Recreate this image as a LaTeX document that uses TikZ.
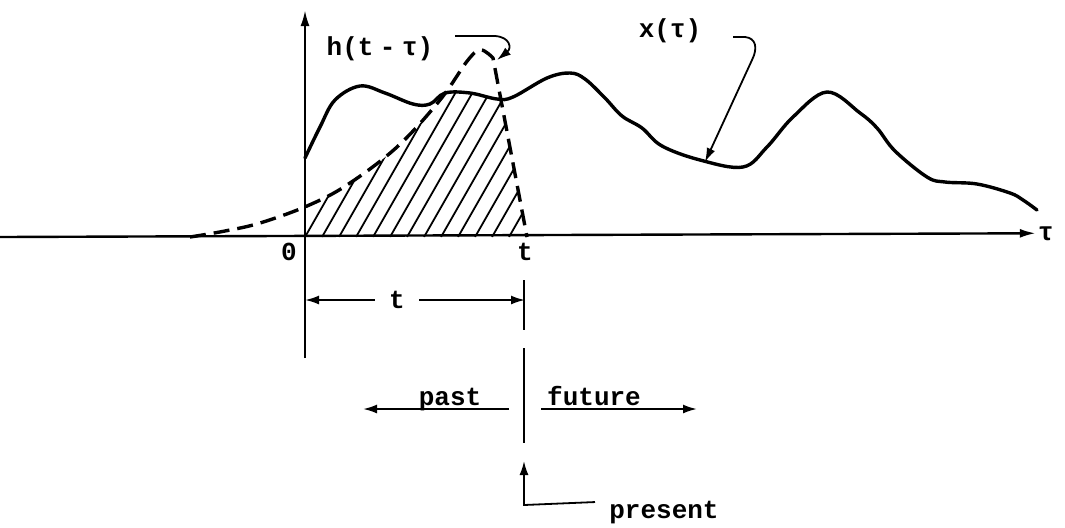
\documentclass[tikz,border=0pt]{standalone}
\usepackage{fontspec}
\setmonofont{Liberation Mono}
\usetikzlibrary{arrows.meta}

\begin{document}
\begin{tikzpicture}[
  x=0.5pt,y=-0.5pt,
  font=\ttfamily\bfseries\fontsize{13}{15}\selectfont,
  axis/.style={line width=1.2pt},
  arr/.style={-{Latex[length=7pt,width=4.5pt]},line width=1pt},
  lead/.style={-{Latex[length=7pt,width=4.5pt]},line width=0.9pt},
  signal/.style={line width=1.7pt,line join=round,line cap=round},
  kernel/.style={line width=1.7pt,dash pattern=on 8pt off 4pt},
  hatch/.style={line width=0.9pt},
  lbl/.style={inner sep=1pt,anchor=base}
]
\useasboundingbox (0,0) rectangle (1065,527);

% labels
\node[lbl] (zero) at (289,260) {0};
\node[lbl] (tend) at (525,260) {t};
\node[lbl] (tau) at (1046,240) {τ};
\node[lbl] (tdim) at (397,308) {t};
\node[lbl] (past) at (450,405) {past};
\node[lbl] (future) at (594,405) {future};
\node[lbl] (present) at (664,518) {present};
\node[lbl] (hlab) at (380,55) {h(t\hspace{.25em}-\hspace{.25em}τ)};
\node[lbl] (xlab) at (670,37) {x(τ)};

% end points
\coordinate (xstart) at (0,237);
\coordinate (ybot) at (305,358);
\coordinate (ytop) at (305,10);
\coordinate (dl) at (305,300);
\coordinate (dr) at (525,300);
\coordinate (pa) at (509,409);
\coordinate (pb) at (363,409);
\coordinate (fa) at (541,409);
\coordinate (fb) at (697,409);
\coordinate (hpeak) at (497,60);
\coordinate (xdip) at (705,162);

% hatched overlap
\begin{scope}
  \clip plot[smooth,tension=0.6] coordinates {(305,158) (320,127) (335,100) (360,86) (385,93) (413,104) (430,104) (445,93) (470,93) (497,99) (513,97) (547,78) (570,73)} -- (570,237) -- (305,237) -- cycle;
  \clip plot[smooth,tension=0.6] coordinates {(190,237) (225,231) (260,223) (307,206) (347,185) (397,147) (440,100) (468,60) (481,50) (493,58)} -- (527,237) -- cycle;
  \foreach \i in {0,...,14}
    \draw[hatch] (305+17*\i,237) -- ++(120,-210);
\end{scope}

% axes
\draw[axis,-{Latex[length=8pt,width=4.5pt]}] (xstart) -- (tau.west);
\draw[axis,-{Latex[length=8pt,width=4.5pt]}] (ybot) -- (ytop);

% x(tau) and h(t-tau)
\draw[signal] plot[smooth,tension=0.6] coordinates {(305,158) (320,127) (335,100) (360,86) (385,93) (413,104) (430,104) (445,93) (470,93) (497,99) (513,97) (547,78) (570,73) (585,79) (605,98) (622,116) (642,128) (662,146) (700,160) (743,167) (767,147) (793,117) (827,92) (860,113) (877,128) (895,151) (927,177) (945,182) (977,184) (1010,193) (1023,200) (1037,210)};
\draw[kernel] plot[smooth,tension=0.6] coordinates {(190,237) (225,231) (260,223) (307,206) (347,185) (397,147) (440,100) (468,60) (481,50) (493,58)} -- (527,237);

% leaders
\draw[lead] (455,36) -- (495,36) .. controls (510,37) and (512,48) .. (hpeak);
\draw[lead] (733,37) -- (745,37) .. controls (756,38) and (758,48) .. (752,60) -- (xdip);

% present marker
\draw[line width=1pt] (524,280) -- (524,330);
\draw[line width=1pt] (524,348) -- (524,443);
\draw[lead] ([xshift=-6pt,yshift=5pt]present.west) -- (524,505) -- (524,461);

% intervals
\draw[arr] ([xshift=-6pt]tdim.west |- dl) -- (dl);
\draw[arr] ([xshift=6pt]tdim.east |- dr) -- (dr);
\draw[arr] (pa) -- (pb);
\draw[arr] (fa) -- (fb);
\end{tikzpicture}
\end{document}
